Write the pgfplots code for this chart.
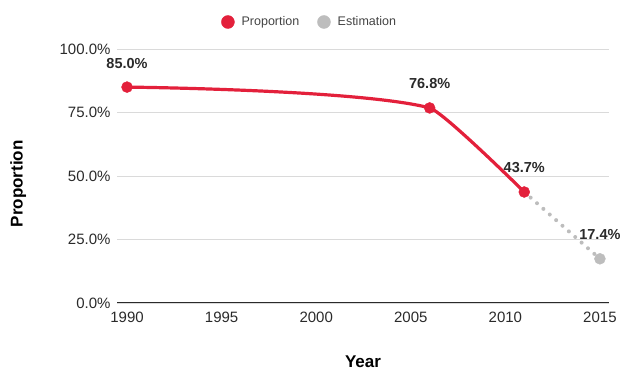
\documentclass[border=0pt]{standalone}
\usepackage{fontspec}
\setmainfont{Liberation Sans}
\usepackage{pgfplots}
\pgfplotsset{compat=1.18}
\definecolor{propred}{HTML}{E3203B}
\definecolor{estgray}{HTML}{BDBDBD}
\definecolor{gridgray}{HTML}{DADADA}
\definecolor{txt}{HTML}{2A2A2A}
\definecolor{legtxt}{HTML}{444444}

\begin{document}
\begin{tikzpicture}
\useasboundingbox (0pt,0pt) rectangle (623pt,371pt);
\begin{axis}[
  at={(117pt,68pt)}, anchor=south west,
  scale only axis, width=492pt, height=254pt,
  xmin=1989.47, xmax=2015.48, ymin=0, ymax=100,
  separate axis lines,
  axis x line*=bottom, axis y line*=left,
  y axis line style={draw=none},
  x axis line style={draw=txt, line width=1pt},
  major tick style={draw=none},
  ytick={0,25,50,75,100},
  yticklabel={\pgfmathprintnumber[fixed,fixed zerofill,precision=1]{\tick}\%},
  yticklabel style={xshift=-3pt},
  xtick={1990,1995,2000,2005,2010,2015},
  xticklabel style={/pgf/number format/1000 sep={}, yshift=-5pt},
  /pgf/number format/assume math mode=true,
  tick label style={font=\fontsize{15}{17}\selectfont, color=txt},
  ymajorgrids, grid style={gridgray, line width=0.8pt},
  xlabel={Year}, ylabel={Proportion},
  label style={font=\bfseries\fontsize{17}{19}\selectfont, color=black},
  xlabel style={at={(axis description cs:0.5,-0.232)}, anchor=center},
  ylabel style={at={(axis description cs:-0.201,0.469)}, anchor=center},
  legend style={at={(axis description cs:0.2114,1.1063)}, anchor=west,
    draw=none, fill=none, inner sep=0pt,
    font=\fontsize{12.5}{14}\selectfont, text=legtxt,
    /tikz/every odd column/.append style={column sep=5pt},
    /tikz/every even column/.append style={column sep=16pt}},
  legend columns=2,
  clip=false,
]
\addlegendimage{legend image code/.code={\fill[propred] (0pt,0pt) circle (6.5pt);}}
\addlegendentry{Proportion}
\addlegendimage{legend image code/.code={\fill[estgray] (0pt,0pt) circle (6.5pt);}}
\addlegendentry{Estimation}

% estimated decline, dotted
\addplot[forget plot, estgray, line width=4pt, line cap=round,
  dash pattern=on 0pt off 8.5pt] coordinates {(2011,43.7) (2015,17.4)};
% measured proportion: gentle curve up to 2006, steeper fall afterwards
\begin{scope}
  \clip (axis cs:1985,-10) rectangle (axis cs:2006,110);
  \addplot[forget plot, propred, line width=3.2pt, smooth, tension=0.63]
    coordinates {(1990,85.0) (2006,76.8) (2011,43.7)};
\end{scope}
\begin{scope}
  \clip (axis cs:2006,-10) rectangle (axis cs:2020,110);
  \addplot[forget plot, propred, line width=3.2pt, smooth, tension=0.12]
    coordinates {(1990,85.0) (2006,76.8) (2011,43.7)};
\end{scope}
% markers with value labels
\addplot[forget plot, only marks, mark=*, mark size=5.5pt, color=propred,
  nodes near coords={\pgfmathprintnumber[fixed,fixed zerofill,precision=1]{\pgfplotspointmeta}\%},
  nodes near coords style={font=\bfseries\fontsize{14.5}{16}\selectfont, color=txt, anchor=center, yshift=24pt}]
  coordinates {(1990,85.0) (2006,76.8) (2011,43.7)};
\addplot[forget plot, only marks, mark=*, mark size=5.5pt, color=estgray,
  nodes near coords={\pgfmathprintnumber[fixed,fixed zerofill,precision=1]{\pgfplotspointmeta}\%},
  nodes near coords style={font=\bfseries\fontsize{14.5}{16}\selectfont, color=txt, anchor=center, yshift=24pt}]
  coordinates {(2015,17.4)};
\end{axis}
\end{tikzpicture}
\end{document}
